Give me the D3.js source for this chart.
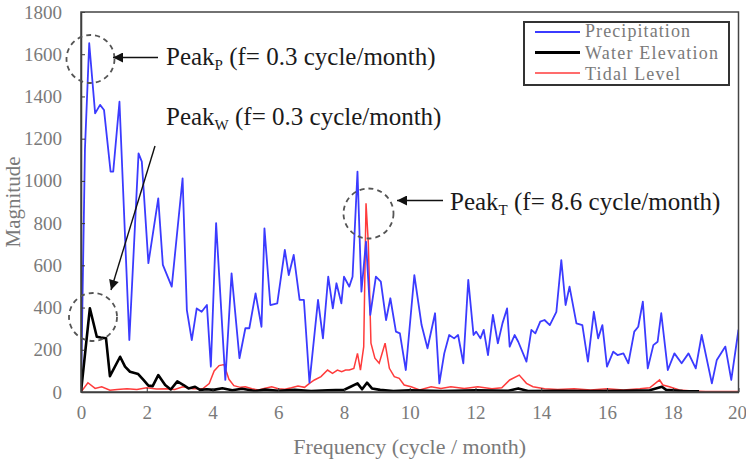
<!DOCTYPE html>
<html>
<head>
<meta charset="utf-8">
<script src="https://cdn.jsdelivr.net/npm/d3@7"></script>
<style>
  body { margin: 0; background: #fff; }
  svg { display: block; }
</style>
</head>
<body>
<script>
      var w = 746;
      var h = 462;
      var margin = {left: 81, right: 7, top: 12, bottom: 70};

      // tick values for the axes
      var xTicks = [0, 2, 4, 6, 8, 10, 12, 14, 16, 18, 20];
      var yTicks = [0, 200, 400, 600, 800, 1000, 1200, 1400, 1600, 1800];

      // series: [frequency (cycle/month), magnitude]
      var precipitation = [[0,0],[0.12,1150],[0.25,1652],[0.43,1320],[0.58,1360],[0.7,1336],[0.9,1044],[0.98,1044],
        [1.17,1375],[1.47,246],[1.75,1130],[1.85,1091],[2.05,610],[2.35,917],[2.49,602],[2.76,499],[3.09,1012],
        [3.22,388],[3.37,246],[3.52,396],[3.67,380],[3.83,412],[3.95,120],[4.11,800],[4.39,57],[4.58,562],
        [4.82,160],[5.0,302],[5.12,302],[5.31,467],[5.49,309],[5.58,775],[5.76,412],[5.97,420],[6.2,673],
        [6.32,554],[6.47,649],[6.65,436],[6.78,436],[6.95,44],[7.21,436],[7.36,254],[7.52,546],[7.66,396],
        [7.77,515],[7.92,420],[8.0,546],[8.16,499],[8.26,546],[8.41,1044],[8.53,475],[8.67,712],[8.8,365],
        [8.97,546],[9.12,523],[9.28,341],[9.41,444],[9.58,286],[9.7,278],[9.88,104],[10.14,554],[10.36,317],
        [10.54,207],[10.77,373],[10.9,41],[11.05,183],[11.2,270],[11.35,254],[11.47,270],[11.63,136],[11.78,531],
        [11.94,270],[12.02,286],[12.15,254],[12.25,294],[12.38,175],[12.53,365],[12.68,231],[12.82,325],
        [12.96,396],[13.04,215],[13.19,270],[13.3,238],[13.55,144],[13.7,294],[13.82,278],[13.97,333],[14.1,341],
        [14.26,317],[14.46,380],[14.61,625],[14.74,412],[14.86,499],[15.07,325],[15.25,317],[15.42,144],
        [15.6,380],[15.73,254],[15.86,317],[16.0,120],[16.19,191],[16.32,175],[16.5,183],[16.65,136],[16.83,286],
        [16.95,309],[17.09,428],[17.24,112],[17.41,222],[17.54,238],[17.65,373],[17.85,104],[18.05,183],
        [18.27,136],[18.48,183],[18.7,112],[18.88,270],[19.19,41],[19.34,152],[19.6,215],[19.78,57],[20,295]];

      var waterElevation = [[0,0],[0.27,397],[0.48,262],[0.6,258],[0.76,255],[0.88,75],[1.19,167],[1.34,120],
        [1.49,96],[1.74,85],[1.9,57],[2.05,30],[2.18,28],[2.35,80],[2.56,33],[2.73,12],[2.93,50],[3.12,33],
        [3.27,17],[3.47,25],[3.62,10],[3.83,13],[4.03,10],[4.3,18],[4.6,8],[4.9,15],[5.3,5],[5.6,12],[6.0,6],
        [6.5,10],[7.0,5],[7.5,8],[8.0,10],[8.2,25],[8.41,41],[8.55,13],[8.7,44],[8.85,17],[9.1,10],[9.5,5],
        [10,8],[11,5],[12,8],[13,6],[13.3,17],[13.6,5],[14.5,6],[15.5,5],[16.5,6],[17.3,8],[17.67,25],
        [17.8,10],[18.3,5],[18.8,3]];

      var tidalLevel = [[0,0],[0.21,44],[0.43,17],[0.63,25],[0.88,8],[1.1,12],[1.4,15],[1.7,12],[2.0,20],
        [2.3,14],[2.6,15],[2.85,12],[3.1,25],[3.4,15],[3.7,15],[3.9,40],[4.05,100],[4.2,125],[4.35,130],
        [4.5,60],[4.65,30],[4.85,22],[5.0,25],[5.2,15],[5.4,10],[5.6,18],[5.8,25],[6.0,15],[6.2,13],[6.4,20],
        [6.6,28],[6.8,22],[6.95,41],[7.1,57],[7.3,73],[7.5,104],[7.65,88],[7.8,104],[7.93,96],[8.05,104],
        [8.16,104],[8.3,112],[8.41,183],[8.5,104],[8.6,215],[8.67,894],[8.74,704],[8.82,231],[8.94,160],
        [9.07,136],[9.25,231],[9.38,112],[9.53,73],[9.68,65],[9.83,33],[10.04,25],[10.3,10],[10.65,25],
        [10.95,17],[11.25,25],[11.66,17],[12.07,25],[12.5,15],[12.8,20],[13.04,57],[13.33,80],[13.55,41],
        [13.75,25],[14.1,15],[14.5,12],[15,15],[15.5,10],[16,15],[16.5,10],[17,15],[17.3,20],[17.6,57],
        [17.7,33],[17.9,25],[18.2,10],[18.6,5],[19,2],[20,2]];

      var seriesNames = ["Precipitation", "Water Elevation", "Tidal Level"];

      // peak annotations: label subscript and text
      var peakSub = ["P", "W", "T"];
      var peakText = [" (f= 0.3 cycle/month)", " (f= 0.3 cycle/month)", " (f= 8.6 cycle/month)"];

      var serif = "Liberation Serif, Times New Roman, serif";
      var grey = "#7a7a7a";

      var svg = d3.select("body").append("svg").attr("width", w).attr("height", h);

      var xScale = d3.scaleLinear().domain([0, 20]).range([margin.left, w - margin.right - 0.5]);
      var yScale = d3.scaleLinear().domain([0, 1800]).range([h - margin.bottom, margin.top]);

      // arrow head
      svg.append("defs").append("marker")
          .attr("id", "head").attr("viewBox", "0 0 10 10")
          .attr("refX", 10).attr("refY", 5)
          .attr("markerWidth", 12).attr("markerHeight", 10)
          .attr("markerUnits", "userSpaceOnUse")
          .attr("orient", "auto")
        .append("path").attr("d", "M0,0 L10,5 L0,10 Z").style("fill", "#111");

      // clip the lines to the plot area
      svg.append("clipPath").attr("id", "plot")
        .append("rect").attr("x", margin.left).attr("y", margin.top)
          .attr("width", xScale(20) - margin.left).attr("height", yScale(0) - margin.top);

      var line = d3.line()
          .x(function (d) { return xScale(d[0]); })
          .y(function (d) { return yScale(d[1]); });

      var lines = svg.append("g").attr("clip-path", "url(#plot)");
      lines.append("path").datum(tidalLevel).attr("d", line)
          .style("fill", "none").style("stroke", "#ff3b3b").style("stroke-width", 1.5);
      lines.append("path").datum(precipitation).attr("d", line)
          .style("fill", "none").style("stroke", "#3b3bff").style("stroke-width", 1.8)
          .style("stroke-linejoin", "round");
      lines.append("path").datum(waterElevation).attr("d", line)
          .style("fill", "none").style("stroke", "#000").style("stroke-width", 2.6)
          .style("stroke-linejoin", "round");

      // axes
      var xAxis = d3.axisBottom(xScale).tickValues(xTicks).tickFormat(d3.format("d"))
          .tickSizeInner(-4).tickSizeOuter(0).tickPadding(14);
      var gx = svg.append("g").attr("transform", "translate(0," + yScale(0) + ")").call(xAxis);

      var yAxis = d3.axisLeft(yScale).tickValues(yTicks).tickFormat(d3.format("d"))
          .tickSizeInner(-4).tickSizeOuter(0).tickPadding(19);
      var gy = svg.append("g").attr("transform", "translate(" + margin.left + ",0)").call(yAxis);

      [gx, gy].forEach(function (g) {
        g.attr("font-family", serif).attr("font-size", 19);
        g.selectAll("text").style("font-family", serif).style("font-size", "19px").style("fill", grey);
        g.selectAll("line").style("stroke", "#333");
        g.select(".domain").style("stroke", "#333").style("stroke-width", 1.5);
      });
      // last x label sits at the window edge, keep it inside
      gx.selectAll(".tick text").filter(function (d) { return d === 20; })
          .attr("text-anchor", "end").attr("x", 8);

      // frame
      svg.append("rect")
          .attr("x", margin.left).attr("y", margin.top)
          .attr("width", xScale(20) - margin.left).attr("height", yScale(0) - margin.top)
          .style("fill", "none").style("stroke", "#444").style("stroke-width", 1.5);

      // axis titles
      svg.append("text").text("Frequency (cycle / month)")
          .attr("x", (xScale(0) + xScale(20)) / 2).attr("y", 454)
          .attr("text-anchor", "middle")
          .style("font-family", serif).style("font-size", "22px").style("fill", grey);

      svg.append("text").text("Magnitude")
          .attr("transform", "translate(20," + 202 + ") rotate(-90)")
          .attr("text-anchor", "middle")
          .style("font-family", serif).style("font-size", "21px").style("fill", grey);

      // legend
      var legend = svg.append("g");
      legend.append("rect").attr("x", 524).attr("y", 22).attr("width", 205).attr("height", 63)
          .style("fill", "#fff").style("stroke", "#333").style("stroke-width", 2);
      var legColors = ["#3b3bff", "#000", "#ff3b3b"];
      var legWidths = [2, 3, 1.5];
      var legLens = [105, 133, 95];
      seriesNames.forEach(function (name, i) {
        var y = 32 + i * 20.5;
        legend.append("line").attr("x1", 535).attr("x2", 580).attr("y1", y).attr("y2", y)
            .style("stroke", legColors[i]).style("stroke-width", legWidths[i]);
        legend.append("text").text(name)
            .attr("x", 585).attr("y", y + 5 + i)
            .attr("textLength", legLens[i]).attr("lengthAdjust", "spacing")
            .style("font-family", serif).style("font-size", "18px").style("fill", grey);
      });

      // peak annotations: dashed circle, arrow and label
      var circles = [[90.5, 59, 24], [93, 317, 24], [368.5, 213.5, 25]];
      var arrows = [[158, 57.5, 113, 57.5], [155, 146, 111, 290], [443, 200.5, 397, 200.5]];
      var labelPos = [[166, 65], [166, 125], [450, 210]];

      peakSub.forEach(function (sub, i) {
        svg.append("circle").attr("cx", circles[i][0]).attr("cy", circles[i][1]).attr("r", circles[i][2])
            .style("fill", "none").style("stroke", "#555").style("stroke-width", 1.8)
            .style("stroke-dasharray", "5,4");
        svg.append("line")
            .attr("x1", arrows[i][0]).attr("y1", arrows[i][1])
            .attr("x2", arrows[i][2]).attr("y2", arrows[i][3])
            .attr("marker-end", "url(#head)")
            .style("stroke", "#111").style("stroke-width", 1.4);
        var t = svg.append("text").attr("x", labelPos[i][0]).attr("y", labelPos[i][1])
            .style("font-family", serif).style("font-size", "25px").style("fill", "#1a1a1a");
        t.append("tspan").text("Peak");
        t.append("tspan").text(sub).attr("dy", 5).style("font-size", "15px");
        t.append("tspan").text(peakText[i]).attr("dy", -5);
      });
</script>
</body>
</html>
